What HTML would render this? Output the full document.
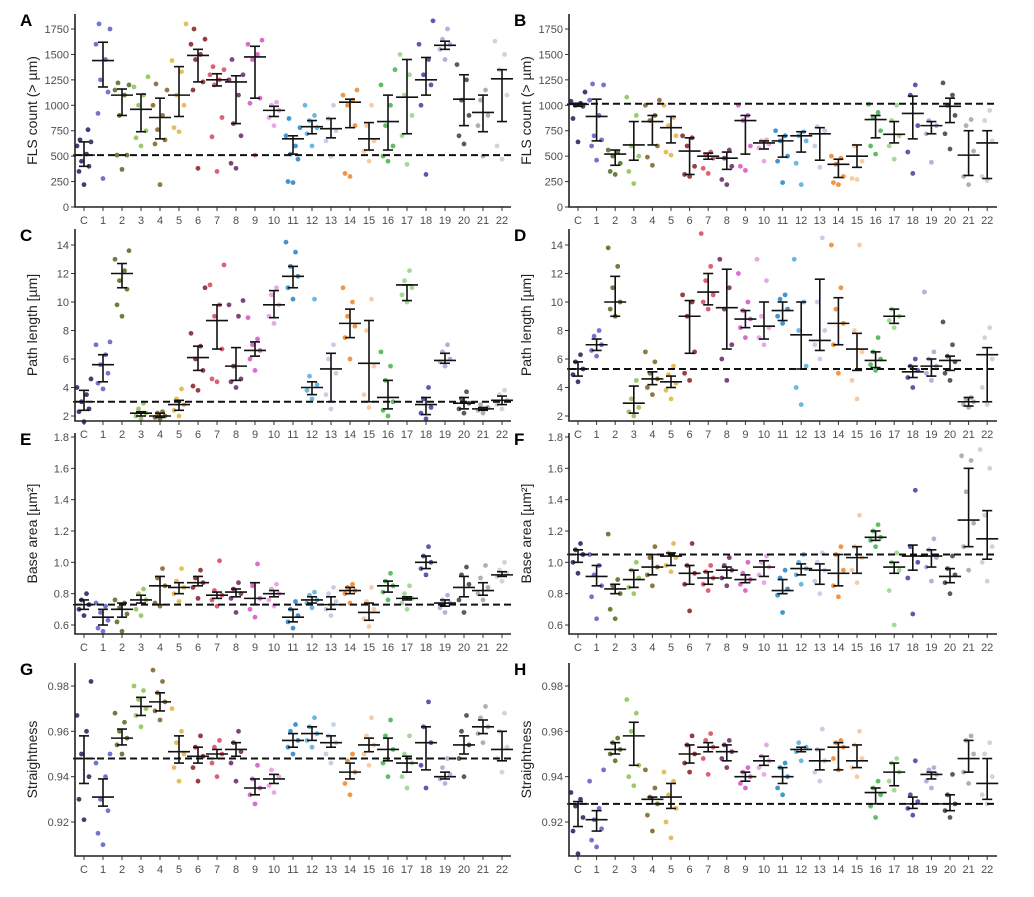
<!DOCTYPE html>
<html><head><meta charset="utf-8"><style>
html,body{margin:0;padding:0;background:#fff;}
svg text{font-family:"Liberation Sans",sans-serif;}
</style></head><body>
<svg id="fig" width="1034" height="892" viewBox="0 0 1034 892" xmlns="http://www.w3.org/2000/svg"></svg>
<script>
const categories=["C","1","2","3","4","5","6","7","8","9","10","11","12","13","14","15","16","17","18","19","20","21","22"];
const groupColors=["#1c1f5c","#5a5cc4","#4f6a1c","#8dc050","#7a6224","#e2b23e","#861c22","#d6465a","#6a245e","#d452c4","#e698dc","#2282c4","#52acdc","#b8c8e2","#f08424","#f8c292","#44b248","#94d284","#3c3e9e","#a4a4d4","#3e3e3e","#a2a2a2","#cbcbcb"];

const aMean=[510,1440,1100,960,880,1100,1490,1250,1230,1475,950,670,790,770,1030,670,840,1080,1250,1590,1060,930,1260];
const aLo=[400,1180,900,740,670,890,1230,1190,820,1070,890,520,720,680,780,560,560,720,1100,1550,800,740,840];
const aHi=[640,1620,1160,1110,1070,1380,1550,1310,1290,1580,990,700,850,870,1060,830,1100,1450,1470,1630,1300,1100,1350];
const aPts=[[220,350,400,450,520,600,640,660,760],[280,920,1130,1250,1450,1600,1750,1800],[370,510,510,900,1100,1150,1200,1220],[600,680,750,1000,1100,1180,1280],[220,620,660,760,900,1000,1150,1210],[740,780,1000,1100,1330,1440,1800],[380,1150,1230,1450,1500,1600,1650,1750],[350,690,880,1200,1250,1300,1350,1380],[380,430,700,820,1100,1250,1300,1450],[510,1020,1070,1450,1500,1600,1640],[800,880,950,1000,1030],[240,250,470,520,600,700,780,870],[600,720,780,850,900,1000],[500,650,750,870,1000],[300,330,800,1000,1050,1100,1150],[450,550,650,800,1000],[450,500,600,800,1000,1200,1350],[420,700,900,1100,1300,1500],[320,1000,1200,1300,1450,1600,1830],[1450,1550,1600,1650,1750],[620,700,900,1050,1250,1400],[500,800,900,1050,1150],[470,600,1100,1350,1500,1630]];
const aRef=510;

const bMean=[1010,890,520,610,840,780,550,500,480,850,630,650,700,720,420,500,860,715,920,800,990,510,630];
const bLo=[990,650,410,460,610,630,320,470,370,520,570,490,540,460,290,390,680,630,670,720,830,310,280];
const bHi=[1020,1060,560,840,900,890,680,530,540,900,650,700,740,780,470,610,900,840,1090,840,1070,750,750];
const bPts=[[640,870,990,1000,1020,1040,1130],[460,600,660,700,900,1050,1200,1210],[320,350,430,500,540,560],[230,350,500,600,900,1080],[410,490,600,850,900,1000,1050],[510,540,700,800,880,1000],[300,320,400,600,680,700],[330,380,480,510,540],[220,270,400,480,560],[360,400,600,850,900,1000],[450,580,620,650,660],[240,450,500,650,700,750],[220,430,650,700,740],[390,600,750,790],[220,240,300,420,480,500],[270,280,450,600],[520,600,750,880,930,1010],[470,600,700,850,1000],[330,540,800,1100,1200],[440,720,800,850],[570,720,900,1000,1100,1220],[220,300,550,800,860],[260,300,650,850,950]];
const bRef=1015;

const cMean=[3.0,5.6,12.0,2.2,2.0,2.8,6.1,8.7,5.5,6.6,9.8,11.8,4.0,5.3,8.5,5.7,3.3,11.2,2.8,5.9,2.9,2.5,3.1];
const cLo=[2.4,4.4,11.0,2.0,1.9,2.4,5.2,6.7,4.5,6.2,8.9,11.0,3.5,3.0,7.5,3.0,2.5,10.1,2.1,5.7,2.5,2.4,2.8];
const cHi=[3.8,6.3,12.7,2.3,2.2,3.1,6.9,9.8,6.8,7.2,10.8,12.5,4.4,6.4,9.5,8.7,4.5,11.2,3.3,6.4,3.3,2.6,3.4];
const cPts=[[1.6,2.3,2.5,3.0,3.5,4.0,4.6],[3.9,4.3,5.0,5.6,6.3,7.0,7.2],[9.0,9.8,10.9,11.5,12.2,13.0,13.6],[1.8,2.0,2.2,2.5,2.9],[1.8,1.9,2.0,2.2,2.3],[2.0,2.4,2.8,3.2,3.9],[3.8,4.1,5.2,6.0,6.9,7.8,11.0],[4.4,4.6,6.7,9.0,9.8,11.2,12.6],[4.0,4.4,4.6,5.5,9.0,9.8,10.1],[5.2,6.0,6.6,7.0,7.4,8.9],[8.5,9.0,9.8,10.5,11.0],[10.2,11.0,11.8,12.5,13.5,14.2],[3.2,3.8,4.2,4.8,10.2],[2.5,3.5,5.0,6.0,7.0],[6.0,7.5,8.3,9.0,10.0,11.0],[2.6,3.5,5.5,8.0,10.2],[2.0,2.4,3.0,4.5,5.5,6.5],[10.0,10.5,11.0,11.5,12.2],[1.8,2.2,2.6,3.2,4.0],[5.5,5.8,6.0,6.5,7.0],[2.2,2.5,2.9,3.2,3.7],[2.2,2.4,2.6,2.8],[2.5,2.8,3.1,3.5,3.8]];
const cRef=3.0;

const dMean=[5.3,7.0,10.0,2.9,4.6,4.4,9.0,10.7,9.6,8.8,8.3,9.4,7.7,7.3,8.5,6.7,5.9,9.0,5.1,5.5,5.9,3.0,6.3];
const dLo=[4.8,6.6,9.0,2.2,4.2,4.0,6.4,9.8,6.7,8.2,7.4,8.7,5.3,6.6,7.0,5.2,5.4,8.5,4.7,4.8,5.2,2.7,3.0];
const dHi=[5.8,7.4,11.8,4.1,5.1,4.8,10.1,12.0,12.3,9.4,10.0,10.0,10.0,11.6,10.3,7.8,6.5,9.5,5.5,6.0,6.2,3.3,6.8];
const dPts=[[4.4,4.9,5.3,5.8,6.3],[6.2,6.6,7.0,7.6,8.0],[9.0,9.5,10,11,12.5,13.8],[2.0,2.3,2.6,3.2,4.5],[3.5,4.0,4.6,5.0,5.8,6.5],[3.2,3.8,4.3,4.9,5.5],[4.5,5.0,6.5,9.0,10.0,10.5],[9.5,10.0,10.5,11.5,12.5,14.8],[4.5,6.0,7.0,9.5,11.0,13.0],[7.5,8.2,8.8,9.4,10.0,12.0],[7.0,7.5,8.2,9.0,11.5,13.0],[8.5,9.0,9.5,10.2,10.5],[2.8,4.0,5.5,8.0,10.0,13.0],[6.0,7.0,8.0,10,14.5],[5.0,7.0,8.5,9.5,11.0,14.0],[3.2,4.5,6.5,8.0,14.0],[5.2,5.6,6.0,6.5,7.5],[8.2,8.7,9.0,9.5],[4.0,4.7,5.2,5.5,6.0],[4.5,5.0,5.5,6.0,6.5,10.7],[4.5,5.0,5.8,6.2,7.0,8.6],[2.6,2.8,3.0,3.2,3.3],[2.8,4.0,6.0,7.5,8.2]];
const dRef=5.3;

const eMean=[.73,.65,.70,.76,.85,.84,.87,.79,.81,.77,.80,.65,.76,.73,.82,.68,.85,.77,1.00,.74,.84,.82,.92];
const eLo=[.70,.60,.65,.74,.73,.80,.85,.77,.78,.73,.78,.62,.74,.70,.80,.63,.81,.76,.96,.72,.78,.79,.91];
const eHi=[.76,.70,.74,.79,.91,.87,.91,.81,.83,.87,.82,.70,.78,.78,.84,.74,.88,.78,1.04,.76,.91,.87,.94];
const ePts=[[.66,.70,.73,.76,.80],[.56,.58,.63,.68,.72,.74],[.56,.62,.67,.71,.74,.76],[.66,.70,.76,.80,.83],[.72,.74,.85,.90,.96],[.75,.80,.84,.88,.96],[.77,.84,.87,.90,.95],[.72,.76,.79,.82,1.01],[.68,.77,.80,.83,.87],[.65,.70,.77,.85,.99],[.72,.76,.80,.83,.86],[.58,.62,.66,.70,.75],[.71,.74,.76,.79,.81],[.66,.70,.75,.80,.84],[.74,.80,.82,.84,.86],[.59,.64,.70,.75,.84],[.76,.81,.85,.88,.93],[.70,.74,.77,.80,.85],[.92,.96,1.00,1.04,1.10],[.68,.71,.74,.76,.79],[.68,.76,.86,.92,.97],[.76,.80,.84,.90,.98],[.88,.91,.93,.95,1.00]];
const eRef=.73;

const fMean=[1.05,.91,.83,.89,.97,1.04,.93,.90,.95,.89,.97,.82,.96,.95,.93,1.03,1.16,.97,1.04,1.04,.91,1.27,1.15];
const fLo=[1.00,.85,.80,.84,.92,.98,.86,.86,.90,.87,.91,.80,.92,.86,.85,.93,1.14,.93,.95,.97,.87,1.10,1.02];
const fHi=[1.08,.98,.86,.95,1.05,1.06,.98,.94,.97,.92,1.01,.89,.99,.99,1.05,1.10,1.20,1.00,1.11,1.08,.96,1.60,1.33];
const fPts=[[.93,1.00,1.05,1.08,1.12],[.64,.78,.85,.92,.98,1.05],[.64,.70,.80,.85,.89,1.18],[.80,.84,.90,.95,1.00],[.85,.92,.97,1.03,1.10],[.94,.98,1.03,1.06,1.12],[.69,.86,.93,.98,1.12],[.82,.86,.90,.94,.98],[.85,.90,.95,.98,1.03],[.82,.86,.89,.93,1.00],[.87,.92,.97,1.00,1.04],[.68,.79,.83,.90,.95],[.86,.92,.96,1.00,1.05],[.80,.88,.95,1.00,1.06],[.78,.85,.95,1.05,1.10],[.87,.95,1.03,1.10,1.30],[1.10,1.14,1.16,1.20,1.24],[.60,.82,.95,1.00,1.06],[.67,.90,1.00,1.10,1.46],[.88,.97,1.03,1.08,1.15],[.80,.87,.92,.96,1.04],[.95,1.10,1.25,1.45,1.65,1.68],[.88,1.00,1.10,1.30,1.60,1.72]];
const fRef=1.05;

const gMean=[.948,.931,.957,.971,.973,.951,.949,.950,.952,.935,.939,.956,.959,.955,.942,.954,.952,.946,.955,.940,.954,.962,.952];
const gLo=[.937,.927,.954,.967,.969,.946,.946,.948,.949,.932,.937,.953,.956,.953,.939,.951,.947,.942,.943,.939,.950,.959,.947];
const gHi=[.958,.939,.961,.975,.977,.958,.953,.952,.955,.939,.941,.959,.962,.958,.946,.957,.957,.949,.962,.942,.958,.965,.960];
const gPts=[[.921,.930,.940,.950,.960,.967,.982],[.910,.915,.925,.930,.940,.946,.950],[.950,.954,.957,.960,.964,.968],[.962,.967,.970,.974,.978,.980],[.965,.969,.973,.977,.982,.987],[.938,.944,.950,.955,.960,.970],[.938,.944,.949,.953,.958],[.940,.946,.950,.953,.956],[.938,.946,.951,.955,.960],[.928,.932,.935,.939,.945],[.933,.936,.940,.943],[.950,.953,.956,.960,.963],[.953,.956,.959,.962,.966],[.946,.950,.955,.958,.963],[.932,.937,.942,.947,.950],[.945,.950,.954,.958,.966],[.940,.946,.952,.958,.965],[.935,.940,.946,.950,.958],[.935,.945,.955,.962,.973],[.937,.939,.941,.944,.948],[.940,.948,.954,.960,.967],[.955,.959,.962,.966,.971],[.942,.948,.953,.960,.968]];
const gRef=.948;

const hMean=[.928,.921,.952,.958,.930,.931,.950,.953,.951,.940,.947,.940,.952,.947,.953,.947,.933,.942,.928,.941,.928,.948,.937];
const hLo=[.918,.916,.950,.945,.928,.926,.946,.951,.947,.938,.945,.937,.951,.943,.943,.944,.928,.936,.926,.939,.925,.942,.930];
const hHi=[.929,.925,.955,.964,.931,.937,.954,.955,.954,.942,.949,.944,.953,.952,.955,.954,.935,.946,.931,.942,.932,.956,.948];
const hPts=[[.906,.916,.922,.927,.930,.933],[.909,.912,.917,.921,.926,.938,.943],[.947,.950,.952,.955,.957],[.936,.940,.945,.960,.968,.974],[.916,.923,.928,.931,.935,.943],[.913,.920,.926,.932,.938,.942],[.942,.946,.950,.954,.958],[.941,.948,.953,.956,.959],[.944,.948,.951,.954,.956],[.935,.937,.940,.942,.944],[.941,.944,.947,.949,.954],[.932,.935,.940,.944,.946],[.947,.951,.953,.955],[.938,.942,.947,.952,.961],[.943,.948,.953,.955,.956],[.940,.944,.948,.954,.960],[.922,.927,.932,.935,.938],[.934,.938,.942,.946,.948],[.923,.926,.929,.932,.947],[.935,.938,.941,.943,.944],[.922,.925,.928,.932,.941],[.937,.942,.950,.956,.958],[.928,.932,.940,.950,.955]];
const hRef=.928;

const ticksFLS=[0,250,500,750,1000,1250,1500,1750];
const ticksPath=[2,4,6,8,10,12,14];
const ticksArea=[0.6,0.8,1.0,1.2,1.4,1.6,1.8];
const ticksStraight=[0.92,0.94,0.96,0.98];

const NS="http://www.w3.org/2000/svg";
const svg=document.getElementById("fig");
function mk(tag,attrs,parent){const e=document.createElementNS(NS,tag);for(const k in attrs)e.setAttribute(k,attrs[k]);(parent||svg).appendChild(e);return e;}

const cols=[{axisX:75,first:84,step:19,right:511,letterX:20},{axisX:569,first:578,step:18.6,right:997,letterX:514}];
const rows=[
 {top:14,bottom:207,v0:0,y0:207,v1:1750,y1:29,ticks:ticksFLS,dec:0,title:"FLS count (> µm)"},
 {top:229,bottom:421,v0:2,y0:416,v1:14,y1:245,ticks:ticksPath,dec:0,title:"Path length [µm]"},
 {top:433,bottom:634,v0:0.6,y0:625,v1:1.8,y1:437,ticks:ticksArea,dec:1,title:"Base area [µm²]"},
 {top:663,bottom:856,v0:0.92,y0:822,v1:0.98,y1:686,ticks:ticksStraight,dec:2,title:"Straightness"}
];
const jitter=[0,-5,5,-2.5,2.5,-7,7,-4,4,-1,1];

function drawPanel(letter,row,col,mean,lo,hi,pts,ref){
  const R=rows[row],C=cols[col];
  const g=mk("g",{});
  
  
  const y=v=>R.y0+(v-R.v0)*(R.y1-R.y0)/(R.v1-R.v0);
  const x=i=>C.first+i*C.step;
  const L=mk("text",{x:C.letterX,y:R.top+12,"font-size":17,"font-weight":"bold",fill:"#000"},g);
  L.textContent=letter;
  
  
  const tx=C.axisX-38, ty=(R.top+R.bottom)/2;
  const T=mk("text",{x:tx,y:ty,"font-size":14,fill:"#222","text-anchor":"middle",transform:`rotate(-90 ${tx} ${ty})`},g);
  T.textContent=R.title;
  
  
  R.ticks.forEach(t=>{
    const yy=y(t);
    mk("line",{x1:C.axisX-4,x2:C.axisX,y1:yy,y2:yy,stroke:"#333","stroke-width":1},g);
    const tl=mk("text",{x:C.axisX-6,y:yy+4,"font-size":11,fill:"#4d4d4d","text-anchor":"end"},g);
    tl.textContent=t.toFixed(R.dec);
    
    
  });
  categories.forEach((c,i)=>{
    mk("line",{x1:x(i),x2:x(i),y1:R.bottom,y2:R.bottom+4,stroke:"#333","stroke-width":1},g);
    const tl=mk("text",{x:x(i),y:R.bottom+17,"font-size":11,fill:"#4d4d4d","text-anchor":"middle"},g);
    tl.textContent=c;
    
    
  });
  pts.forEach((arr,i)=>{
    arr.forEach((v,j)=>{
      const d=mk("circle",{cx:x(i)+jitter[j%jitter.length],cy:y(v),r:2.4,fill:groupColors[i],"fill-opacity":0.85},g);
      
      
    });
  });
  const rl=mk("line",{x1:C.axisX,x2:C.right,y1:y(ref),y2:y(ref),stroke:"#111","stroke-width":2,"stroke-dasharray":"7,4"},g);
  
  
  mean.forEach((m,i)=>{
    const eg=mk("g",{stroke:"#111","stroke-width":1.6},g);
    
    
    mk("line",{x1:x(i),x2:x(i),y1:y(lo[i]),y2:y(hi[i])},eg);
    mk("line",{x1:x(i)-5,x2:x(i)+5,y1:y(lo[i]),y2:y(lo[i])},eg);
    mk("line",{x1:x(i)-5,x2:x(i)+5,y1:y(hi[i]),y2:y(hi[i])},eg);
    mk("line",{x1:x(i)-11,x2:x(i)+11,y1:y(m),y2:y(m)},eg);
  });
  const ax=mk("path",{d:`M${C.axisX},${R.top} V${R.bottom} H${C.right}`,fill:"none",stroke:"#222","stroke-width":1.6},g);
  
  
}
drawPanel("A",0,0,aMean,aLo,aHi,aPts,aRef);
drawPanel("B",0,1,bMean,bLo,bHi,bPts,bRef);
drawPanel("C",1,0,cMean,cLo,cHi,cPts,cRef);
drawPanel("D",1,1,dMean,dLo,dHi,dPts,dRef);
drawPanel("E",2,0,eMean,eLo,eHi,ePts,eRef);
drawPanel("F",2,1,fMean,fLo,fHi,fPts,fRef);
drawPanel("G",3,0,gMean,gLo,gHi,gPts,gRef);
drawPanel("H",3,1,hMean,hLo,hHi,hPts,hRef);
</script>
</body></html>
